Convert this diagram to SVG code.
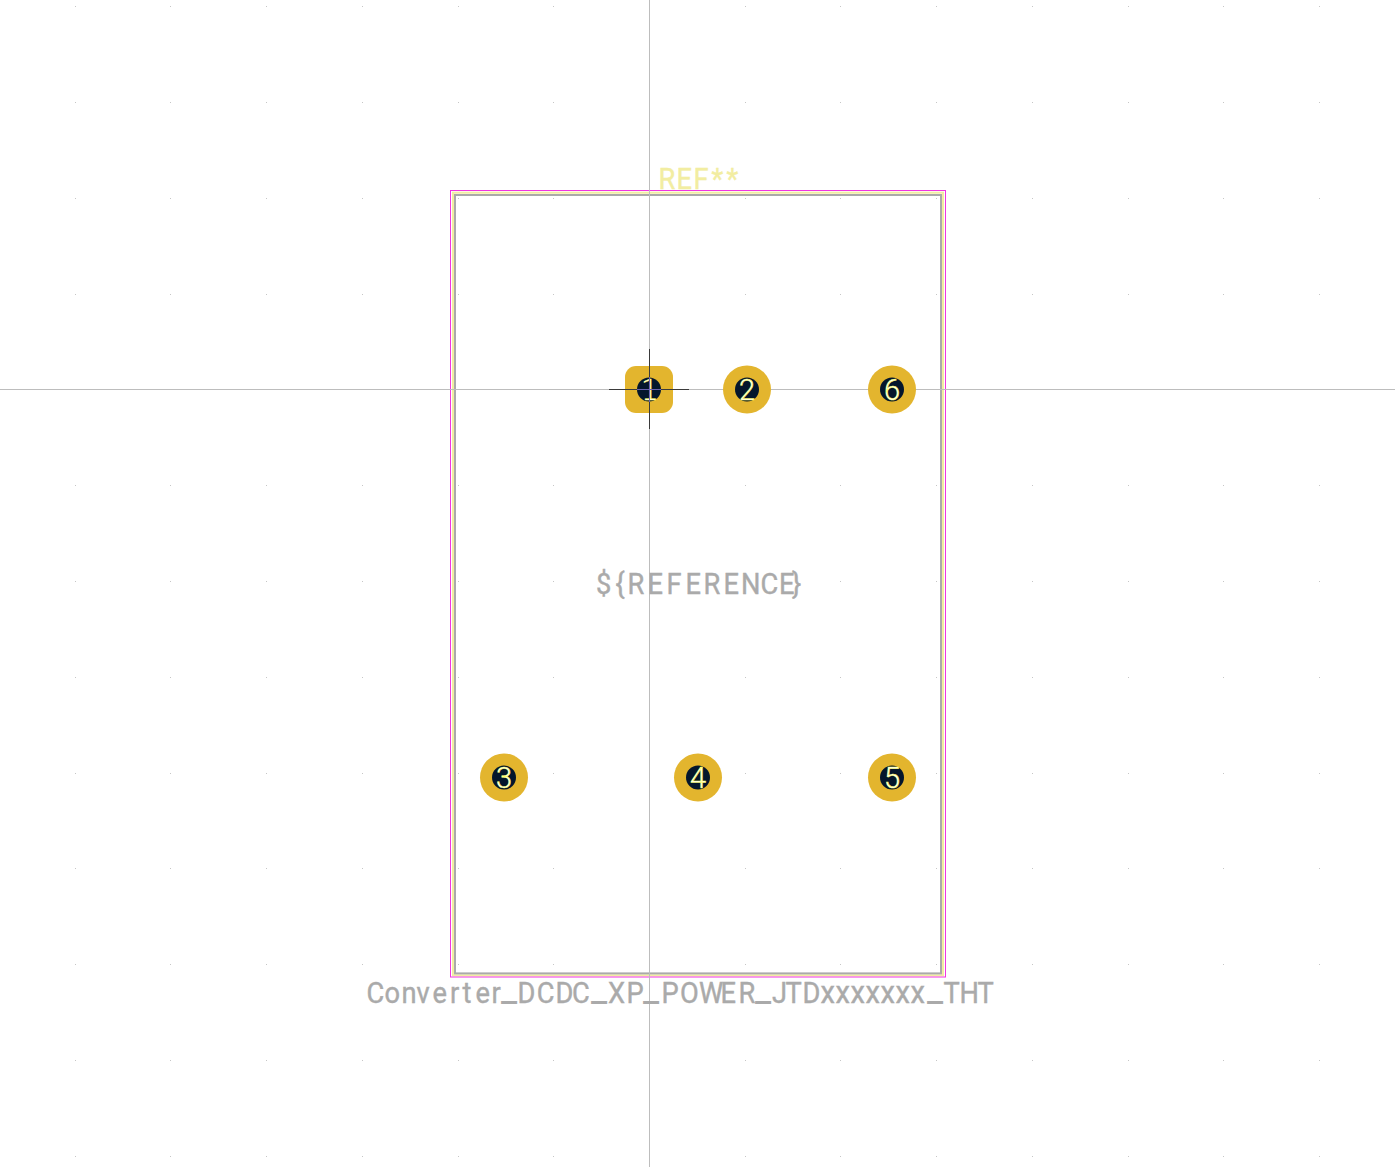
<svg xmlns="http://www.w3.org/2000/svg" xmlns:xlink="http://www.w3.org/1999/xlink" width="1395" height="1167" viewBox="0 0 1395 1167">
<style>
.axis{stroke:#bdbdbd;stroke-width:1;fill:none}
.pad{fill:#e3b52e}
.hole{fill:#04162c}
.num{font-family:"Roboto",sans-serif;font-weight:300;font-size:29px;fill:#fff;stroke:#ffff50;stroke-width:.5;text-anchor:middle}
.one{font-family:"DejaVu Sans",sans-serif;font-weight:200;font-size:28px}
.fab{font-family:"Roboto",sans-serif;font-size:29px;fill:#aaaaaa;stroke:#aaaaaa;stroke-width:.4}
.silk{font-family:"Roboto",sans-serif;font-size:29px;fill:#f2eda1;stroke:#f2eda1;stroke-width:.4}
.us{font-size:38px;stroke-width:0}
.xs{font-size:31px}
.dot{fill:#c6c6c6}
</style>
<defs>
<path id="row" class="dot" d="M75 6h1v1h-1zM170 6h1v1h-1zM266 6h1v1h-1zM362 6h1v1h-1zM458 6h1v1h-1zM553 6h1v1h-1zM649 6h1v1h-1zM745 6h1v1h-1zM840 6h1v1h-1zM936 6h1v1h-1zM1032 6h1v1h-1zM1128 6h1v1h-1zM1223 6h1v1h-1zM1319 6h1v1h-1z"/>
</defs>
<rect width="1395" height="1167" fill="#ffffff"/>
<g id="grid">
<use xlink:href="#row" y="0"/><use xlink:href="#row" y="96"/><use xlink:href="#row" y="192"/><use xlink:href="#row" y="288"/><use xlink:href="#row" y="383"/><use xlink:href="#row" y="479"/><use xlink:href="#row" y="575"/><use xlink:href="#row" y="671"/><use xlink:href="#row" y="767"/><use xlink:href="#row" y="862"/><use xlink:href="#row" y="958"/><use xlink:href="#row" y="1054"/><use xlink:href="#row" y="1150"/>
</g>
<g id="outlines" fill="none">
<rect x="453" y="192.7" width="490" height="782.6" stroke="#f2eda1" stroke-width="2"/>
<rect x="455" y="195" width="486" height="778.4" stroke="#aaaaaa" stroke-width="2"/>
<rect x="450.5" y="190.5" width="495" height="786.5" stroke="#f035e0" stroke-width="1"/>
</g>
<g id="connectors">
<path class="axis" d="M0 389.5H1395M649.5 0V1167"/>
</g>
<g id="pad1"><rect class="pad" x="625" y="366" width="48" height="47" rx="11"/><circle class="hole" cx="649" cy="389.5" r="12"/></g>
<g id="pad2"><circle class="pad" cx="747" cy="389.5" r="24"/><circle class="hole" cx="747" cy="389.5" r="12"/><text class="num" x="747" y="400">2</text></g>
<g id="pad6"><circle class="pad" cx="892" cy="389.5" r="24"/><circle class="hole" cx="892" cy="389.5" r="12"/><text class="num" x="892" y="400">6</text></g>
<g id="pad3"><circle class="pad" cx="504" cy="777.5" r="24"/><circle class="hole" cx="504" cy="777.5" r="12"/><text class="num" x="504" y="788">3</text></g>
<g id="pad4"><circle class="pad" cx="698" cy="777.5" r="24"/><circle class="hole" cx="698" cy="777.5" r="12"/><text class="num" x="698" y="788">4</text></g>
<g id="pad5"><circle class="pad" cx="892" cy="777.5" r="24"/><circle class="hole" cx="892" cy="777.5" r="12"/><text class="num" x="892" y="788">5</text></g>
<g id="anchor">
<text class="num one" x="650" y="400">1</text>
<path d="M609 389.5H689M649.5 349V429" stroke="#3a3a3a" stroke-width="1" fill="none"/>
<path d="M637 389.5H661M649.5 377V402" stroke="#6a62b0" stroke-width="1" fill="none"/>
</g>
<g id="labels" transform="scale(.94 1)">
<text class="silk" y="189" x="700.5 719.7 737.8 756.9 772.9">REF**</text>
<text class="fab" y="594" x="634 654.8 667.6 688.8 709 729.3 748.4 769.7 788.3 809 828.7 842.5">${REFERENCE}</text>
<text class="fab" y="1003"><tspan x="389.9 409 427.1 443.1 460.1 478.7 492 505.9 522.9">Converter</tspan><tspan class="us" y="1001" x="533">_</tspan><tspan y="1003" x="550.5 571.1 591 608.5">DCDC</tspan><tspan class="us" y="1001" x="628.7">_</tspan><tspan y="1003" x="646.8 666.5">XP</tspan><tspan class="us" y="1001" x="684">_</tspan><tspan y="1003" x="703.7 723.4 743.6 766.5 785.6">POWER</tspan><tspan class="us" y="1001" x="803.2">_</tspan><tspan y="1003" x="821.3 835.6 853.7">JTD</tspan><tspan class="xs" x="872.9 888.8 904.8 920.8 936.7 952.7 968.6">xxxxxxx</tspan><tspan class="us" y="1001" x="986.2">_</tspan><tspan y="1003" x="1003.7 1020.7 1039.9">THT</tspan></text>
</g>
</svg>
